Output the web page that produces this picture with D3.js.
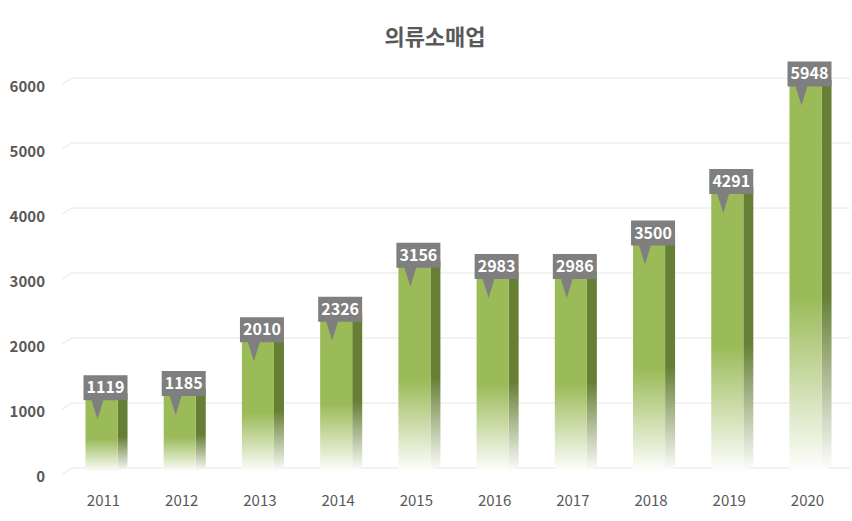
<!DOCTYPE html>
<html><head><meta charset="utf-8">
<script src="https://cdn.jsdelivr.net/npm/d3@7"></script>
<style>body{margin:0;background:#fff;font-family:"Noto Sans CJK KR","Noto Sans",sans-serif}</style>
</head><body><div id="chart"></div>
<script>
const years = ['2011','2012','2013','2014','2015','2016','2017','2018','2019','2020'];
const sales = [1119,1185,2010,2326,3156,2983,2986,3500,4291,5948];
const yTicks = [0,1000,2000,3000,4000,5000,6000];

const width = 852, height = 521;
const svg = d3.select('#chart').append('svg').attr('width', width).attr('height', height);

const x = d3.scaleBand().domain(years).range([62, 845]).paddingInner(0.59).paddingOuter(0.3);
const y = d3.scaleLinear().domain([0, 6000]).range([472, 82]);
const depth = 10, rise = 6;

const defs = svg.append('defs');
function grad(id, c) {
  const g = defs.append('linearGradient').attr('id', id).attr('x1', 0).attr('y1', 0).attr('x2', 0).attr('y2', 1);
  g.append('stop').attr('offset', '0%').attr('stop-color', c);
  g.append('stop').attr('offset', '55%').attr('stop-color', c);
  g.append('stop').attr('offset', '100%').attr('stop-color', '#fff');
}
grad('front', '#9bbb59');
grad('side', '#667f35');

// title
svg.append('text').attr('x', 435).attr('y', 45).attr('text-anchor', 'middle')
  .attr('font-size', 22).attr('font-weight', 'bold').attr('fill', '#595959').text('의류소매업');

// gridlines (3D floor-ish slant at left)
const grid = svg.append('g');
yTicks.forEach(t => {
  const yy = y(t) - 4;
  grid.append('path').attr('d', `M62 ${yy + 6} L72 ${yy} L850 ${yy}`)
    .attr('fill', 'none').attr('stroke', '#e6e6e6').attr('stroke-width', 1);
  svg.append('text').attr('x', 45).attr('y', y(t) + 10).attr('text-anchor', 'end')
    .attr('font-size', 15).attr('font-weight', 'bold').attr('fill', '#595959').text(t);
});

// bars
const bars = svg.append('g').selectAll('g').data(years.map((d, i) => ({ year: d, v: sales[i] }))).join('g');
bars.append('path').attr('fill', 'url(#side)').attr('d', d => {
  const x1 = x(d.year) + x.bandwidth();
  return `M${x1} ${y(d.v)} L${x1 + depth} ${y(d.v) - rise} L${x1 + depth} ${y(0) - rise} L${x1} ${y(0)} Z`;
});
bars.append('path').attr('fill', '#7e9a45').attr('d', d => {
  const x0 = x(d.year), x1 = x0 + x.bandwidth(), t = y(d.v);
  return `M${x0} ${t} L${x0 + depth} ${t - rise} L${x1 + depth} ${t - rise} L${x1} ${t} Z`;
});
bars.append('rect').attr('fill', 'url(#front)')
  .attr('x', d => x(d.year)).attr('width', x.bandwidth())
  .attr('y', d => y(d.v)).attr('height', d => y(0) - y(d.v));

// callout labels
bars.each(function (d) {
  const g = d3.select(this);
  const cx = x(d.year) + x.bandwidth() / 2 + 4, t = y(d.v);
  const bw = 44, bh = 25, by = t - 24, bx = cx - bw / 2;
  g.append('path').attr('fill', '#7f7f7f')
    .attr('d', `M${bx} ${by} h${bw} v${bh} h-${bw * 0.55} L${cx - 8} ${t + 20} L${bx + 8} ${by + bh} H${bx} Z`);
  g.append('text').attr('x', cx).attr('y', by + 18).attr('text-anchor', 'middle')
    .attr('font-size', 16).attr('font-weight', 'bold').attr('fill', '#fff').text(d.v);
});

// x labels
years.forEach(yr => {
  svg.append('text').attr('x', x(yr) + x.bandwidth() / 2 + 2).attr('y', 506).attr('text-anchor', 'middle')
    .attr('font-size', 15).attr('fill', '#595959').text(yr);
});
</script></body></html>
